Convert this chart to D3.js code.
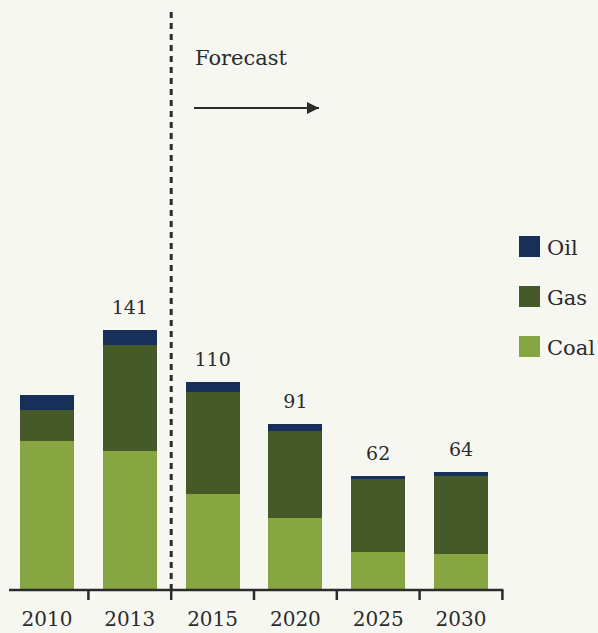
<!DOCTYPE html>
<html>
<head>
<meta charset="utf-8">
<script src="https://cdn.jsdelivr.net/npm/d3@7"></script>
<style>
  html, body { margin: 0; padding: 0; background: #f7f7f2; }
  svg { display: block; }
  text { font-family: "DejaVu Serif", "Liberation Serif", serif; fill: #2b2b2b; }
</style>
</head>
<body>
<div id="chart"></div>
<script>
'use strict';

var years = ['2010', '2013', '2015', '2020', '2025', '2030'];
var coal = [81, 75.5, 52, 39, 20.5, 19.5];
var gas = [16.5, 57.5, 55.5, 47.5, 39.5, 42.5];
var oil = [8, 8, 5.5, 3.5, 2, 2];
var totalLabels = ['', '141', '110', '91', '62', '64'];
var seriesNames = ['Coal', 'Gas', 'Oil'];
var legendOrder = ['Oil', 'Gas', 'Coal'];

var colors = { Coal: '#87a540', Gas: '#465a29', Oil: '#16305a' };

var width = 598, height = 633;
var baseY = 590;

var svg = d3.select('#chart').append('svg')
    .attr('width', width)
    .attr('height', height);

var x = d3.scaleBand()
    .domain(years)
    .range([5.6, 502.4])
    .paddingInner(0.348)
    .paddingOuter(0.174);

var y = d3.scaleLinear()
    .domain([0, 320])
    .range([baseY, 0]);

var rows = years.map(function(yr, i) {
    return { year: yr, Coal: coal[i], Gas: gas[i], Oil: oil[i], label: totalLabels[i] };
});

var stack = d3.stack().keys(seriesNames)(rows);

svg.append('g').selectAll('g')
    .data(stack)
    .enter()
    .append('g')
    .attr('fill', function(s) { return colors[s.key]; })
    .selectAll('rect')
    .data(function(s) { return s; })
    .enter()
    .append('rect')
    .attr('shape-rendering', 'crispEdges')
    .attr('x', function(d) { return x(d.data.year); })
    .attr('width', x.bandwidth())
    .attr('y', function(d) { return y(d[1]); })
    .attr('height', function(d) { return y(d[0]) - y(d[1]); });

// totals above bars
var topLayer = stack[stack.length - 1];
svg.append('g').selectAll('text')
    .data(topLayer)
    .enter()
    .append('text')
    .attr('x', function(d) { return x(d.data.year) + x.bandwidth() / 2; })
    .attr('y', function(d) { return y(d[1]) - 16; })
    .attr('text-anchor', 'middle')
    .style('font-size', '19px')
    .text(function(d) { return d.data.label; });

// axis line + boundary ticks
var boundaries = years.map(function(d) {
    return x(d) + x.bandwidth() + (x.step() - x.bandwidth()) / 2;
});

svg.append('line')
    .attr('x1', 9).attr('x2', boundaries[boundaries.length - 1] + 1)
    .attr('y1', baseY).attr('y2', baseY)
    .attr('stroke', '#2b2b2b')
    .attr('stroke-width', 2.5);

svg.append('g').selectAll('line')
    .data(boundaries)
    .enter()
    .append('line')
    .attr('x1', function(d) { return d; })
    .attr('x2', function(d) { return d; })
    .attr('y1', baseY)
    .attr('y2', baseY + 10)
    .attr('stroke', '#2b2b2b')
    .attr('stroke-width', 2.5);

var xAxis = svg.append('g')
    .attr('transform', 'translate(0,' + baseY + ')')
    .call(d3.axisBottom(x).tickSize(0).tickPadding(22));
xAxis.select('.domain').remove();
xAxis.selectAll('text')
    .style('font-size', '20px')
    .style('font-family', '"DejaVu Serif", serif')
    .attr('fill', '#2b2b2b');

// forecast divider
var divX = boundaries[1];
svg.append('line')
    .attr('x1', divX).attr('x2', divX)
    .attr('y1', 12).attr('y2', baseY)
    .attr('stroke', '#2b2b2b')
    .attr('stroke-width', 3)
    .attr('stroke-dasharray', '6,5');

svg.append('text')
    .attr('x', 195)
    .attr('y', 65)
    .style('font-size', '21px')
    .text('Forecast');

svg.append('defs').append('marker')
    .attr('id', 'arrow')
    .attr('viewBox', '0 0 10 10')
    .attr('refX', 10).attr('refY', 5)
    .attr('markerWidth', 12).attr('markerHeight', 12)
    .attr('markerUnits', 'userSpaceOnUse')
    .attr('orient', 'auto')
    .append('path')
    .attr('d', 'M0,0L10,5L0,10Z')
    .attr('fill', '#2b2b2b');

svg.append('line')
    .attr('x1', 194).attr('x2', 319)
    .attr('y1', 108).attr('y2', 108)
    .attr('stroke', '#2b2b2b')
    .attr('stroke-width', 2)
    .attr('marker-end', 'url(#arrow)');

// legend
var legend = svg.append('g').selectAll('g')
    .data(legendOrder)
    .enter()
    .append('g')
    .attr('transform', function(d, i) { return 'translate(519,' + (236 + i * 50) + ')'; });

legend.append('rect')
    .attr('width', 21)
    .attr('height', 21)
    .attr('fill', function(d) { return colors[d]; });

legend.append('text')
    .attr('x', 28)
    .attr('y', 19)
    .style('font-size', '21px')
    .text(function(d) { return d; });
</script>
</body>
</html>
